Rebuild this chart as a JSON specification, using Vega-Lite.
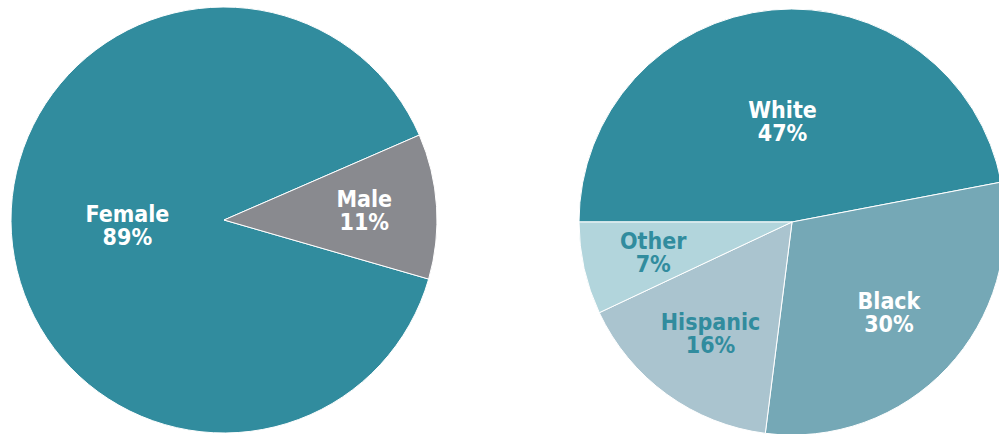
{
  "$schema": "https://vega.github.io/schema/vega-lite/v6.json",
  "padding": 0,
  "width": 999,
  "height": 434,
  "background": "white",
  "config": {"view": {"stroke": null}},
  "resolve": {"scale": {"theta": "independent", "color": "independent", "radius": "independent"}},
  "datasets": {
    "gender": [
      {"chart": "gender", "name": "Female", "pct": 89},
      {"chart": "gender", "name": "Male", "pct": 11}
    ],
    "race": [
      {"chart": "race", "name": "White", "pct": 47},
      {"chart": "race", "name": "Black", "pct": 30},
      {"chart": "race", "name": "Hispanic", "pct": 16},
      {"chart": "race", "name": "Other", "pct": 7}
    ]
  },
  "layer": [
    {
      "data": {"name": "gender"},
      "transform": [{"calculate": "datum.name + '\\n' + datum.pct + '%'", "as": "label"}],
      "encoding": {
        "x": {"field": "chart", "type": "nominal", "axis": null, "scale": {"type": "point", "domain": ["gender", "race"], "range": [224, 792], "padding": 0}},
        "y": {"field": "chart", "type": "nominal", "axis": null, "scale": {"type": "point", "domain": ["gender", "race"], "range": [220, 222], "padding": 0}},
        "theta": {"field": "pct", "type": "quantitative", "stack": true, "scale": {"range": [1.8518, 8.1350]}},
        "order": {"field": "name", "sort": "ascending"}
      },
      "layer": [
        {
          "mark": {"type": "arc", "outerRadius": 213, "stroke": "white", "strokeWidth": 1},
          "encoding": {
            "color": {"field": "name", "type": "nominal", "legend": null,
              "scale": {"domain": ["Female", "Male"], "range": ["#318C9E", "#898A8F"]}}
          }
        },
        {
          "mark": {"type": "text", "font": "'Liberation Sans Narrow', 'DejaVu Sans Condensed', 'Roboto Condensed', 'Liberation Sans', sans-serif", "fontWeight": "bold", "fontSize": 23, "lineBreak": "\n", "lineHeight": 23, "align": "center", "baseline": "middle", "dy": -11},
          "encoding": {
            "text": {"field": "label"},
            "radius": {"field": "pct", "type": "quantitative", "scale": {"type": "linear", "zero": false, "domain": [0, 30, 47, 100], "range": [145, 133, 100, 96]}},
            "color": {"value": "white"}
          }
        }
      ]
    },
    {
      "data": {"name": "race"},
      "transform": [{"calculate": "datum.name + '\\n' + datum.pct + '%'", "as": "label"}],
      "encoding": {
        "x": {"field": "chart", "type": "nominal", "axis": null, "scale": {"type": "point", "domain": ["gender", "race"], "range": [224, 792], "padding": 0}},
        "y": {"field": "chart", "type": "nominal", "axis": null, "scale": {"type": "point", "domain": ["gender", "race"], "range": [220, 222], "padding": 0}},
        "theta": {"field": "pct", "type": "quantitative", "stack": true, "scale": {"range": [1.3823, 7.6655]}},
        "order": {"field": "name", "sort": "ascending"}
      },
      "layer": [
        {
          "mark": {"type": "arc", "outerRadius": 213, "stroke": "white", "strokeWidth": 1, "clip": true},
          "encoding": {
            "color": {"field": "name", "type": "nominal", "legend": null,
              "scale": {"domain": ["White", "Black", "Hispanic", "Other"], "range": ["#318C9E", "#75A8B6", "#AAC4CF", "#B2D5DC"]}}
          }
        },
        {
          "mark": {"type": "text", "font": "'Liberation Sans Narrow', 'DejaVu Sans Condensed', 'Roboto Condensed', 'Liberation Sans', sans-serif", "fontWeight": "bold", "fontSize": 23, "lineBreak": "\n", "lineHeight": 23, "align": "center", "baseline": "middle", "dy": -11},
          "encoding": {
            "text": {"field": "label"},
            "radius": {"field": "pct", "type": "quantitative", "scale": {"type": "linear", "zero": false, "domain": [0, 30, 47, 100], "range": [145, 133, 100, 96]}},
            "color": {
              "condition": {"test": "datum.name === 'Hispanic' || datum.name === 'Other'", "value": "#318C9E"},
              "value": "white"
            }
          }
        }
      ]
    }
  ]
}
